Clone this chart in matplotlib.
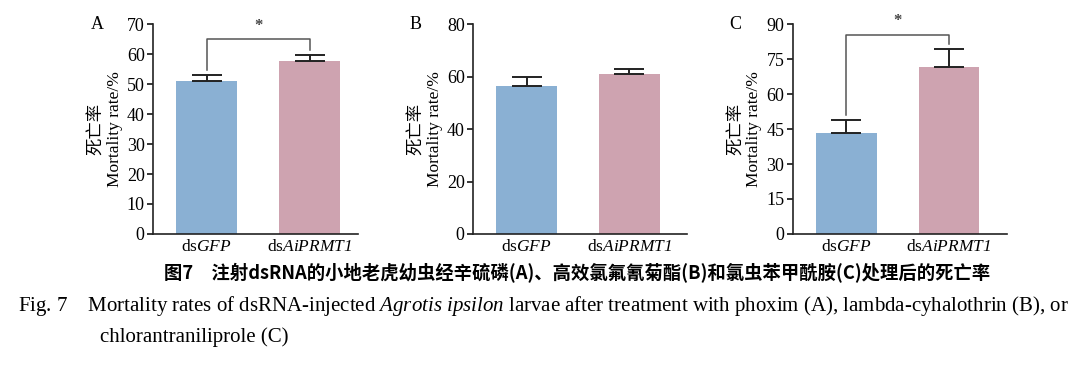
import matplotlib
matplotlib.use("Agg")
import matplotlib.pyplot as plt

plt.rcParams['font.family'] = ['Liberation Serif', 'Noto Sans CJK SC']
plt.rcParams['mathtext.fontset'] = 'custom'
plt.rcParams['mathtext.rm'] = 'Liberation Serif:italic'
plt.rcParams['mathtext.it'] = 'Liberation Serif:italic'
plt.rcParams['font.size'] = 11

# data
groups = ['ds' + r'$\mathit{GFP}$', 'ds' + r'$\mathrm{AiPRMT1}$']
panel_names = ['A', 'B', 'C']
means_a = [51.1, 57.7]
errs_a = [1.9, 2.1]
means_b = [56.6, 61.0]
errs_b = [3.3, 1.8]
means_c = [43.2, 71.8]
errs_c = [5.9, 7.4]
yticks_a = [0, 10, 20, 30, 40, 50, 60, 70]
yticks_b = [0, 20, 40, 60, 80]
yticks_c = [0, 15, 30, 45, 60, 75, 90]
# significance bracket: (bracket height, left leg end, right leg end), None = no bracket
sig_a = (65.0, 54.6, 61.4)
sig_c = (85.6, 51.0, 81.5)

bar_colors = ['#8AB0D3', '#CEA3B0']

fig = plt.figure(figsize=(10.8, 3.86), dpi=100)

panels = [
    ('A', means_a, errs_a, yticks_a, sig_a, [0.1417, 0.394, 0.190, 0.543], 1.47),
    ('B', means_b, errs_b, yticks_b, None, [0.438, 0.394, 0.198, 0.543], 1.56),
    ('C', means_c, errs_c, yticks_c, sig_c, [0.734, 0.394, 0.198, 0.543], 1.56),
]

for name, means, errs, yticks, sig, rect, xmax in panels:
    ax = fig.add_axes(rect)
    x = [0, 1]
    ax.bar(x, means, width=0.59, color=bar_colors, zorder=2)
    ax.errorbar(x, means, yerr=[[0, 0], errs], fmt='none', ecolor='#222222',
                elinewidth=1.4, capsize=11, capthick=1.4, zorder=3)
    ax.set_xlim(-0.52, xmax)
    ax.set_ylim(0, yticks[-1])
    ax.set_yticks(yticks)
    ax.set_xticks(x)
    ax.set_xticklabels(groups, fontsize=12.5)
    ax.tick_params(axis='x', length=0, pad=4)
    ax.tick_params(axis='y', length=4, width=1.1, labelsize=13, pad=2)
    for s in ['top', 'right']:
        ax.spines[s].set_visible(False)
    for s in ['left', 'bottom']:
        ax.spines[s].set_linewidth(1.2)
        ax.spines[s].set_color('#222222')
    ax.set_ylabel('死亡率\nMortality rate/%', fontsize=12.5, labelpad=3, linespacing=1.1)
    ax.text(-0.27, 1.0, name, transform=ax.transAxes, fontsize=13,
            ha='center', va='center')
    if sig is not None:
        yb, yl, yr = sig
        ax.plot([0, 0, 1, 1], [yl, yb, yb, yr], color='#555555', lw=1.1,
                clip_on=False, zorder=3)
        ax.text(0.5, yb + yticks[-1] * 0.025, '*', ha='center', va='bottom',
                fontsize=12, color='#444444', fontweight='bold')

fig.text(0.5345, 0.292,
         '图7　注射dsRNA的小地老虎幼虫经辛硫磷(A)、高效氯氟氰菊酯(B)和氯虫苯甲酰胺(C)处理后的死亡率',
         ha='center', va='center', fontsize=13.2, fontweight='bold',
         family=['Noto Sans CJK SC'])
fig.text(0.017, 0.208,
         r'Fig. 7    Mortality rates of dsRNA-injected $\mathit{Agrotis\ ipsilon}$ larvae after '
         'treatment with phoxim (A), lambda-cyhalothrin (B), or',
         ha='left', va='center', fontsize=15)
fig.text(0.093, 0.126, 'chlorantraniliprole (C)', ha='left', va='center', fontsize=15)

fig.savefig('out.png', dpi=100)
